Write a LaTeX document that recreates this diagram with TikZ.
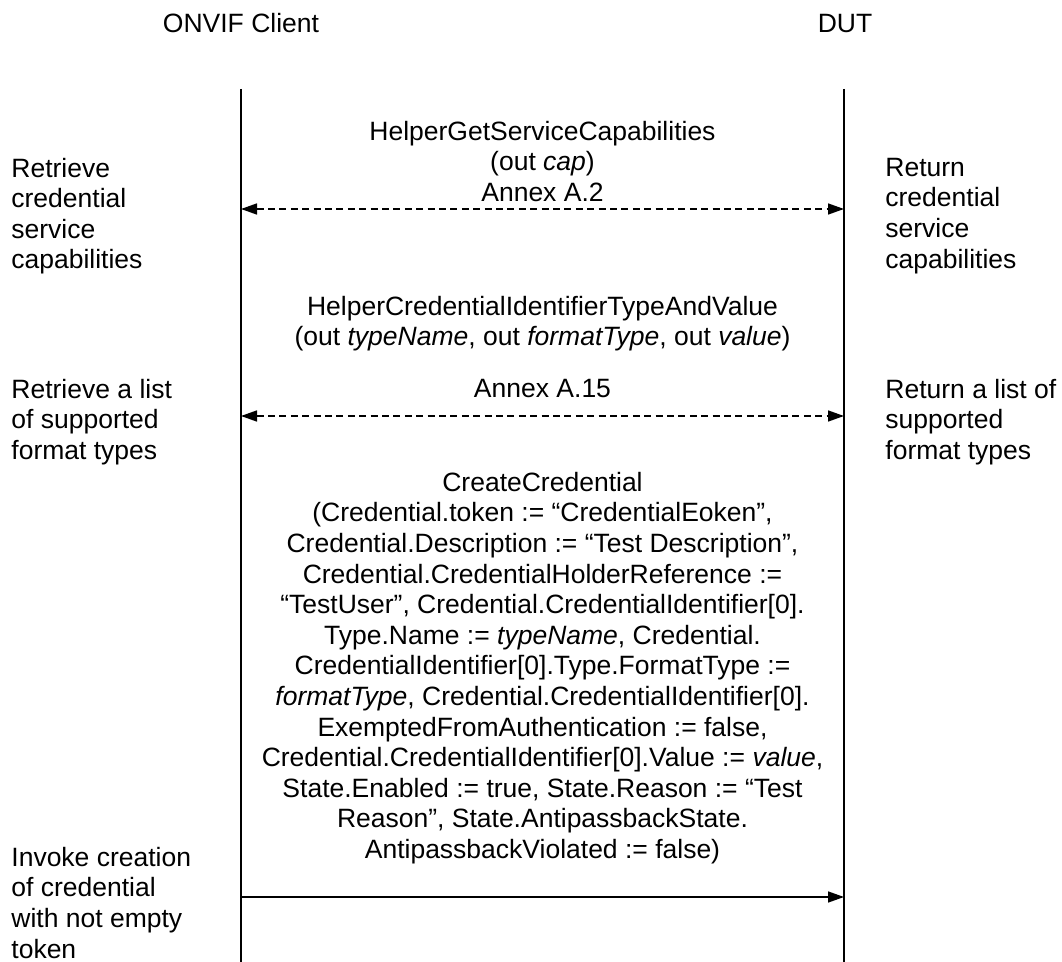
\documentclass[tikz,border=0pt]{standalone}
\usepackage{fontspec}
\setmainfont{Liberation Sans}
\usetikzlibrary{arrows.meta}
\begin{document}
\begin{tikzpicture}[
  x=0.5pt,
  y=-0.5pt,
  life/.style={draw=black,line width=0.9pt},
  call/.style={-{Triangle[length=8pt,width=5.5pt]},line width=0.75pt},
  reply/.style={{Triangle[length=8pt,width=5.5pt]}-{Triangle[length=8pt,width=5.5pt]},line width=0.75pt,dash pattern=on 3.5pt off 2.2pt},
  lab/.style={font=\fontsize{13.25}{15.3}\selectfont,inner sep=0pt},
  note/.style={lab,align=left,anchor=north west,execute at begin node=\strut},
  msgtext/.style={lab,align=center,anchor=north,execute at begin node=\strut}
]
\useasboundingbox (0,0) rectangle (1062,962);
\node[lab,anchor=base] (client) at (241,33) {ONVIF Client};
\node[lab,anchor=base] (dut) at (845,33) {DUT};
\coordinate (clientTop) at (241,89);
\coordinate (clientEnd) at (241,962);
\coordinate (dutTop) at (844,89);
\coordinate (dutEnd) at (844,962);
\draw[life] (clientTop) -- (clientEnd);
\draw[life] (dutTop) -- (dutEnd);
\coordinate (capC) at (241,209);
\coordinate (capD) at (844,209);
\coordinate (typeC) at (241,416);
\coordinate (typeD) at (844,416);
\coordinate (createC) at (241,897);
\coordinate (createD) at (844,897);
\draw[reply] (capC) -- (capD);
\draw[reply] (typeC) -- (typeD);
\draw[call] (createC) -- (createD);
\node[msgtext] (capMsg) at (542.5,120.6) {HelperGetServiceCapabilities\\(out \textit{cap})\\Annex A.2};
\node[msgtext] (typeMsg) at (542.5,295.6) {HelperCredentialIdentifierTypeAndValue\\(out \textit{typeName}, out \textit{formatType}, out \textit{value})\\[10.7pt]Annex A.15};
\node[msgtext] (createMsg) at (542.5,471.6) {CreateCredential\\
(Credential.token := “CredentialEoken”,\\
Credential.Description := “Test Description”,\\
Credential.CredentialHolderReference :=\\
“TestUser”, Credential.CredentialIdentifier[0].\\
Type.Name := \textit{typeName}, Credential.\\
CredentialIdentifier[0].Type.FormatType :=\\
\textit{formatType}, Credential.CredentialIdentifier[0].\\
ExemptedFromAuthentication := false,\\
Credential.CredentialIdentifier[0].Value := \textit{value},\\
State.Enabled := true, State.Reason := “Test\\
Reason”, State.AntipassbackState.\\
AntipassbackViolated := false)};
\node[note] (capNote) at (11,157.6) {Retrieve\\credential\\service\\capabilities};
\node[note] (typeNote) at (11,378.6) {Retrieve a list\\of supported\\format types};
\node[note] (createNote) at (11,846.6) {Invoke creation\\of credential\\with not empty\\token};
\node[note] (capReply) at (885,157.6) {Return\\credential\\service\\capabilities};
\node[note] (typeReply) at (885,378.6) {Return a list of\\supported\\format types};
\end{tikzpicture}
\end{document}
